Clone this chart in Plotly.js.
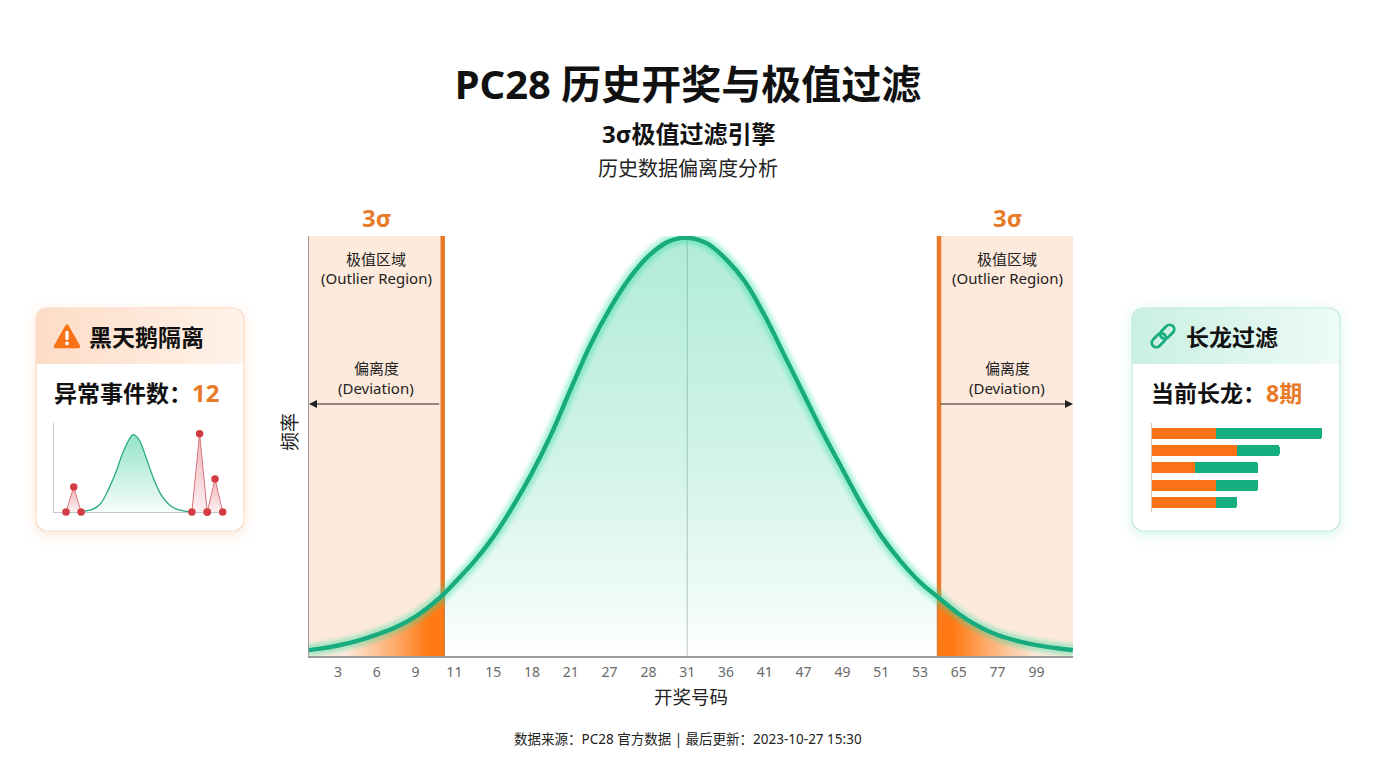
<!DOCTYPE html>
<html>
<head>
<meta charset="utf-8">
<script src="https://cdn.plot.ly/plotly-3.0.1.min.js"></script>
<style>html,body{margin:0;padding:0;background:#fff}#chart{width:1376px;height:768px}</style>
</head>
<body>
<div id="chart"></div>
<script>
// ---------- data ----------
var tickLabels = ['3','6','9','11','15','18','21','27','28','31','36','41','47','49','51','53','65','77','99'];
var tickPositions = [0,1,2,3,4,5,6,7,8,9,10,11,12,13,14,15,16,17,18];
var curveX = [-0.75,-0.5,0,0.5,1,1.5,2,2.5,2.7,3,3.5,4,4.5,5,5.5,6,6.5,7,7.5,8,8.5,9,9.5,10,10.5,11,11.5,12,12.5,13,13.5,14,14.5,15,15.49,16,16.5,17,17.5,18,18.5,18.94];
var curveY = [1.4,1.7,2.5,3.6,5.1,6.9,9.4,12.9,14.5,17.4,22.4,28.3,35.5,43.6,52.9,63.6,74,82.6,89.8,95.2,98.6,99.6,98.3,94.5,89,81,71.7,62.4,53.1,44.5,36,28.6,22.6,17.6,13.8,10,7.1,5,3.6,2.6,1.9,1.4];
var leftBoundary = 2.7, rightBoundary = 15.49, centerPos = 9;

var miniCurveX = [3.5,4,5,6,7,8,9,10,10.26,11,12,13,14,15,16,17,17.9];
var miniCurveY = [0,1,3,9,24,44,68,85,87,82,60,36,18,8,3,1,0];
var miniPeakAX = [1.56,2.56,3.52];
var miniPeakAY = [0,28,0];
var miniPeakBX = [17.9,18.9,19.9];
var miniPeakBY = [0,88,0];
var miniPeakCX = [19.9,20.9,21.9];
var miniPeakCY = [0,37,0];

var streakRows = ['a','b','c','d','e'];
var streakOrange = [3,4,2,3,3];
var streakGreen = [5,2,3,2,1];

// ---------- helpers ----------
var W = 1376, H = 768;
function px(x){return x/W;}
function py(y){return 1-y/H;}
var BODY = '"Noto Sans","Noto Sans CJK SC",sans-serif';
var GREEN = '#17ab7e', ORANGE = '#e87b2a', VIVID = '#f97316';

function txt(x,y,text,size,color,bold,anchor,angle){
  return {xref:'paper',yref:'paper',x:px(x),y:py(y),text:bold?'<b>'+text+'</b>':text,showarrow:false,
    xanchor:anchor||'center',yanchor:'middle',textangle:angle||0,align:'center',
    font:{family:BODY,size:size,color:color||'#111'}};
}

// card backgrounds and icons
var cardsSvg = '<svg xmlns="http://www.w3.org/2000/svg" width="1376" height="768" viewBox="0 0 1376 768">'+
 '<defs>'+
 '<filter id="b" x="-30%" y="-30%" width="160%" height="160%"><feGaussianBlur stdDeviation="7"/></filter>'+
 '<linearGradient id="g1" x1="0" x2="1" y1="0" y2="0"><stop offset="0" stop-color="#fddcc6"/><stop offset="1" stop-color="#fff3ea"/></linearGradient>'+
 '<linearGradient id="g2" x1="0" x2="1" y1="0" y2="0"><stop offset="0" stop-color="#c9f0e1"/><stop offset="1" stop-color="#eefbf6"/></linearGradient>'+
 '<clipPath id="c1"><rect x="36" y="308" width="208" height="223" rx="11"/></clipPath>'+
 '<clipPath id="c2"><rect x="1132" y="308" width="208" height="223" rx="11"/></clipPath>'+
 '</defs>'+
 '<rect x="36" y="310" width="208" height="225" rx="12" fill="#fbd3b6" opacity="0.55" filter="url(#b)"/>'+
 '<rect x="1132" y="310" width="208" height="225" rx="12" fill="#b7ecd9" opacity="0.55" filter="url(#b)"/>'+
 '<rect x="36" y="308" width="208" height="223" rx="11" fill="#fff"/>'+
 '<rect x="1132" y="308" width="208" height="223" rx="11" fill="#fff"/>'+
 '<rect x="36" y="308" width="208" height="56" fill="url(#g1)" clip-path="url(#c1)"/>'+
 '<rect x="1132" y="308" width="208" height="56" fill="url(#g2)" clip-path="url(#c2)"/>'+
 '<rect x="36" y="308" width="208" height="223" rx="11" fill="none" stroke="#fadcc8" stroke-width="1.2"/>'+
 '<rect x="1132" y="308" width="208" height="223" rx="11" fill="none" stroke="#c3ecdd" stroke-width="1.2"/>'+
 '<path d="M67 326 L78.5 346.5 L55.5 346.5 Z" fill="#f97316" stroke="#f97316" stroke-width="3.5" stroke-linejoin="round"/>'+
 '<rect x="65.4" y="331" width="3.2" height="9" rx="1.2" fill="#fff"/><circle cx="67" cy="343.4" r="1.9" fill="#fff"/>'+
 '<g transform="rotate(-45 1163 336)" fill="none" stroke="#17ad80" stroke-width="2.8">'+
 '<rect x="1149" y="331.5" width="16" height="9" rx="4.5"/><rect x="1161" y="331.5" width="16" height="9" rx="4.5"/></g>'+
 '</svg>';

// ---------- traces ----------
var traces = [];
function pick(arr,test){return arr.filter(function(_,i){return test(curveX[i]);});}
var isLeft=function(v){return v<=leftBoundary;}, isRight=function(v){return v>=rightBoundary;},
    isMid=function(v){return v>=leftBoundary&&v<=rightBoundary;};

traces.push({x:pick(curveX,isLeft),y:pick(curveY,isLeft),mode:'lines',line:{width:0,shape:'spline'},fill:'tozeroy',
  fillgradient:{type:'horizontal',start:0.2,stop:2.7,colorscale:[[0,'rgba(255,122,20,0)'],[0.45,'rgba(255,122,20,0.5)'],[0.85,'rgba(255,122,20,1)'],[1,'rgba(255,122,20,1)']]},hoverinfo:'skip'});
traces.push({x:pick(curveX,isRight),y:pick(curveY,isRight),mode:'lines',line:{width:0,shape:'spline'},fill:'tozeroy',
  fillgradient:{type:'horizontal',start:15.49,stop:18,colorscale:[[0,'rgba(255,122,20,1)'],[0.15,'rgba(255,122,20,1)'],[0.55,'rgba(255,122,20,0.5)'],[1,'rgba(255,122,20,0)']]},hoverinfo:'skip'});
traces.push({x:pick(curveX,isMid),y:pick(curveY,isMid),mode:'lines',line:{width:0,shape:'spline'},fill:'tozeroy',
  fillgradient:{type:'vertical',start:0,stop:100,colorscale:[[0,'rgba(38,200,145,0)'],[0.12,'rgba(38,200,145,0.07)'],[0.5,'rgba(38,200,145,0.22)'],[1,'rgba(38,200,145,0.36)']]},hoverinfo:'skip'});
[[18,0.08],[14,0.12],[10,0.2]].forEach(function(g){
  traces.push({x:curveX,y:curveY,mode:'lines',cliponaxis:false,line:{width:g[0],color:'rgba(50,225,165,'+g[1]+')',shape:'spline'},hoverinfo:'skip'});
});
traces.push({x:curveX,y:curveY,mode:'lines',name:'频率',cliponaxis:false,line:{width:4.4,color:GREEN,shape:'spline'},hoverinfo:'skip'});

// mini chart
var miniAxes={xaxis:'x2',yaxis:'y2',hoverinfo:'skip',cliponaxis:false};
function mini(o){return Object.assign({},miniAxes,o);}
traces.push(mini({x:miniCurveX,y:miniCurveY,mode:'lines',line:{width:1.3,color:'#2ba884',shape:'spline'},fill:'tozeroy',
  fillgradient:{type:'vertical',start:0,stop:87,colorscale:[[0,'rgba(38,200,145,0.04)'],[1,'rgba(38,200,145,0.5)']]}}));
[[miniPeakAX,miniPeakAY,28],[miniPeakBX,miniPeakBY,88],[miniPeakCX,miniPeakCY,37]].forEach(function(p){
  traces.push(mini({x:p[0],y:p[1],mode:'lines+markers',line:{width:1,color:'#d9737a'},marker:{size:7.5,color:'#d23c42'},fill:'tozeroy',
    fillgradient:{type:'vertical',start:0,stop:p[2],colorscale:[[0,'rgba(217,70,80,0.08)'],[1,'rgba(217,70,80,0.4)']]}}));
});

// streak bars
traces.push({type:'bar',orientation:'h',x:streakOrange,y:streakRows,xaxis:'x3',yaxis:'y3',marker:{color:VIVID},hoverinfo:'skip'});
traces.push({type:'bar',orientation:'h',x:streakGreen,y:streakRows,xaxis:'x3',yaxis:'y3',marker:{color:'#14ae80'},hoverinfo:'skip'});

// ---------- layout ----------
var plain={showgrid:false,zeroline:false,showticklabels:false,ticks:''};
var layout={
  width:W,height:H,margin:{l:0,r:0,t:0,b:0},paper_bgcolor:'#fff',plot_bgcolor:'rgba(0,0,0,0)',
  showlegend:false,barmode:'stack',bargap:0.36,barcornerradius:2,
  font:{family:BODY,color:'#111'},
  title:{text:'<b>PC28 历史开奖与极值过滤</b>',x:0.5,xanchor:'center',xref:'paper',y:py(85),yref:'paper',yanchor:'middle',font:{family:BODY,size:40,color:'#111'}},
  xaxis:{domain:[px(309),px(1073)],range:[-0.747,18.943],anchor:'y',tickmode:'array',tickvals:tickPositions,ticktext:tickLabels,
    showgrid:false,zeroline:false,ticks:'',ticklen:0,ticklabelstandoff:3,showline:true,linecolor:'#9a9a9a',linewidth:1.5,layer:'below traces',
    tickfont:{family:BODY,size:14,color:'#6a6a6a'},
    title:{text:'开奖号码',font:{family:BODY,size:18.5,color:'#222'},standoff:11}},
  yaxis:Object.assign({},plain,{domain:[1-656/H,1-236/H],range:[0,100],anchor:'x',showline:true,linecolor:'#9a9a9a',linewidth:1.5,layer:'below traces'}),
  xaxis2:Object.assign({},plain,{domain:[px(54),px(225)],range:[0,22.2],anchor:'y2',showline:true,linecolor:'#c4c8cc',linewidth:1,layer:'below traces'}),
  yaxis2:Object.assign({},plain,{domain:[1-512/H,1-423/H],range:[0,100],anchor:'x2',showline:true,linecolor:'#c4c8cc',linewidth:1,layer:'below traces'}),
  xaxis3:Object.assign({},plain,{domain:[px(1152),px(1322)],range:[0,8],anchor:'y3'}),
  yaxis3:Object.assign({},plain,{domain:[1-512/H,1-423/H],range:[4.55,-0.595],anchor:'x3',type:'category',categoryorder:'array',categoryarray:streakRows,showline:true,linecolor:'#d9c6b6',linewidth:1}),
  images:[{source:'data:image/svg+xml;charset=utf-8,'+encodeURIComponent(cardsSvg),xref:'paper',yref:'paper',x:0,y:1,sizex:1,sizey:1,sizing:'stretch',xanchor:'left',yanchor:'top',layer:'below'}],
  shapes:[
    {type:'rect',xref:'x',yref:'y',x0:-0.747,x1:leftBoundary,y0:0,y1:100,fillcolor:'#fdeadc',line:{width:0},layer:'below'},
    {type:'rect',xref:'x',yref:'y',x0:rightBoundary,x1:18.943,y0:0,y1:100,fillcolor:'#fdeadc',line:{width:0},layer:'below'},
    {type:'line',xref:'x',yref:'y',x0:centerPos,x1:centerPos,y0:0,y1:99,line:{color:'rgba(130,150,145,0.55)',width:1},layer:'below'},
    {type:'line',xref:'x',yref:'y',x0:leftBoundary,x1:leftBoundary,y0:0,y1:100,line:{color:ORANGE,width:4.5},layer:'below'},
    {type:'line',xref:'x',yref:'y',x0:rightBoundary,x1:rightBoundary,y0:0,y1:100,line:{color:ORANGE,width:4.5},layer:'below'}
  ],
  annotations:[
    txt(688,134,'3σ极值过滤引擎',24,'#111',true),
    txt(688,168,'历史数据偏离度分析',20,'#222',false),
    txt(376,217.5,'3σ',24,ORANGE,true),
    txt(1007,217.5,'3σ',24,ORANGE,true),
    txt(376,259,'极值区域',15,'#222'),
    txt(376,278.5,'(Outlier Region)',15,'#222'),
    txt(1007,259,'极值区域',15,'#222'),
    txt(1007,278.5,'(Outlier Region)',15,'#222'),
    txt(376,368,'偏离度',15,'#222'),
    txt(376,387.5,'(Deviation)',15,'#222'),
    txt(1007,368,'偏离度',15,'#222'),
    txt(1007,387.5,'(Deviation)',15,'#222'),
    txt(290,432,'频率',19,'#222',false,'center',-90),
    {xref:'x',yref:'y',axref:'x',ayref:'y',x:-0.747,y:60,ax:2.65,ay:60,text:'',showarrow:true,arrowhead:2,arrowsize:1.6,arrowwidth:1,arrowcolor:'#222'},
    {xref:'x',yref:'y',axref:'x',ayref:'y',x:18.943,y:60,ax:15.49,ay:60,text:'',showarrow:true,arrowhead:2,arrowsize:1.6,arrowwidth:1,arrowcolor:'#222'},
    txt(87,337,'黑天鹅隔离',23,'#111',true,'left'),
    txt(52,393,'异常事件数：',23,'#111',true,'left'),
    txt(190,392,'12',24,ORANGE,true,'left'),
    txt(1183.5,337,'长龙过滤',23,'#111',true,'left'),
    txt(1149,393,'当前长龙：',23,'#111',true,'left'),
    txt(1264,393,'8期',23,ORANGE,true,'left'),
    txt(688,739,'数据来源：PC28 官方数据 | 最后更新：2023-10-27 15:30',13.5,'#222')
  ]
};
Plotly.newPlot('chart',traces,layout,{displayModeBar:false,staticPlot:true});
</script>
</body>
</html>
